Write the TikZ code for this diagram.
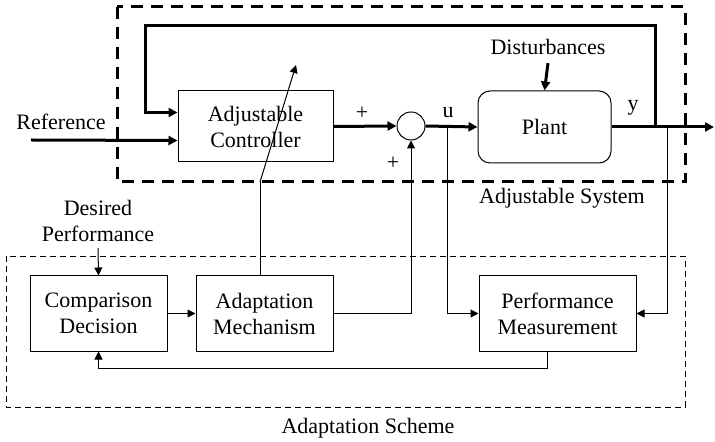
\documentclass[tikz,border=0pt]{standalone}
\usepackage{fontspec}
\setmainfont{Liberation Serif}
\usetikzlibrary{arrows.meta,calc}
\tikzset{
  blk/.style={draw, line width=0.5pt, align=center, inner sep=0pt},
  sig/.style={line width=1.5pt, -{Triangle[length=4.5pt,width=4.5pt]}},
  sigline/.style={line width=1.5pt},
  lnk/.style={line width=0.5pt, -{Triangle[length=4pt,width=4pt]}},
  lnkline/.style={line width=0.5pt},
  lbl/.style={inner sep=0pt, align=center}
}
\begin{document}
\begin{tikzpicture}[x=0.5pt,y=-0.5pt,font=\fontsize{11}{13}\selectfont]
    \useasboundingbox (0,0) rectangle (715,442);
    % adjustable system
    \node[blk, minimum width=77.5pt, minimum height=35.5pt] (ctrl) at (255.5,126.5) {Adjustable\\Controller};
    \node[draw, line width=0.5pt, circle, minimum size=14pt, inner sep=0pt] (sum) at (411,126) {};
    \node[blk, rounded corners=6pt, minimum width=66.5pt, minimum height=36pt] (plant) at (544.5,127) {Plant};
    \node[lbl] (dist) at (548,47) {Disturbances};
    \node[lbl] (ref) at (61,122) {Reference};
    \node[lbl] (plus1) at (362,113) {+};
    \node[lbl] (plus2) at (393,163) {+};
    \node[lbl] (u) at (448,113) {u};
    \node[lbl] (y) at (633,108) {y};
    \node[lbl] (adjsys) at (562,198) {Adjustable System};
    % adaptation scheme
    \node[blk, minimum width=68.5pt, minimum height=37.5pt] (cmp) at (98.5,313.5) {Comparison\\Decision};
    \node[blk, minimum width=68.5pt, minimum height=37.5pt] (adapt) at (264.5,313.5) {Adaptation\\Mechanism};
    \node[blk, minimum width=78.5pt, minimum height=37.5pt] (perf) at (557.5,313.5) {Performance\\Measurement};
    \node[lbl] (desired) at (98,221) {Desired\\Performance};
    \node[lbl] (adsch) at (368,428) {Adaptation Scheme};
    % taps and free ends
    \coordinate (refin) at (31,140);
    \coordinate (ytap) at (655,127);
    \coordinate (ytap2) at (667,127);
    \coordinate (utap) at (447,126);
    \coordinate (fbtop) at (145,26);
    \coordinate (out) at (714,127);
    \coordinate (tiltbase) at (260,182);
    \coordinate (tilttip) at (296,65);
    % thick signals
    \draw[sig] (refin) -- ([yshift=-7pt]ctrl.west);
    \draw[sig] (ytap) |- (fbtop) |- ([yshift=7pt]ctrl.west);
    \draw[sig] (ctrl.east) -- (sum.west);
    \draw[sig] (sum.east) -- (plant.west);
    \draw[sig] (plant.east) -- (out);
    \draw[sig] ([yshift=-4pt]dist.south) -- (plant.north);
    % adaptation links
    \draw[lnk] (desired.south) ++(0,6) -- (cmp.north);
    \draw[lnk] (cmp.east) -- (adapt.west);
    \draw[lnk] (adapt.east) -| (sum.south);
    \draw[lnk] (utap) |- (perf.west);
    \draw[lnk] (ytap2) |- (perf.east);
    \draw[lnk] ([xshift=-5pt]perf.south) -- ++(0,17) -| (cmp.south);
    \draw[lnkline] (adapt.north -| tiltbase) -- (tiltbase);
    \draw[lnk] (tiltbase) -- (tilttip);
    % frames
    \draw[line width=1.5pt, dash pattern=on 6pt off 4pt] (117,7) rectangle (685,182);
    \draw[line width=0.4pt, dash pattern=on 3pt off 2pt] (6,256) rectangle (685,407);
\end{tikzpicture}
\end{document}
